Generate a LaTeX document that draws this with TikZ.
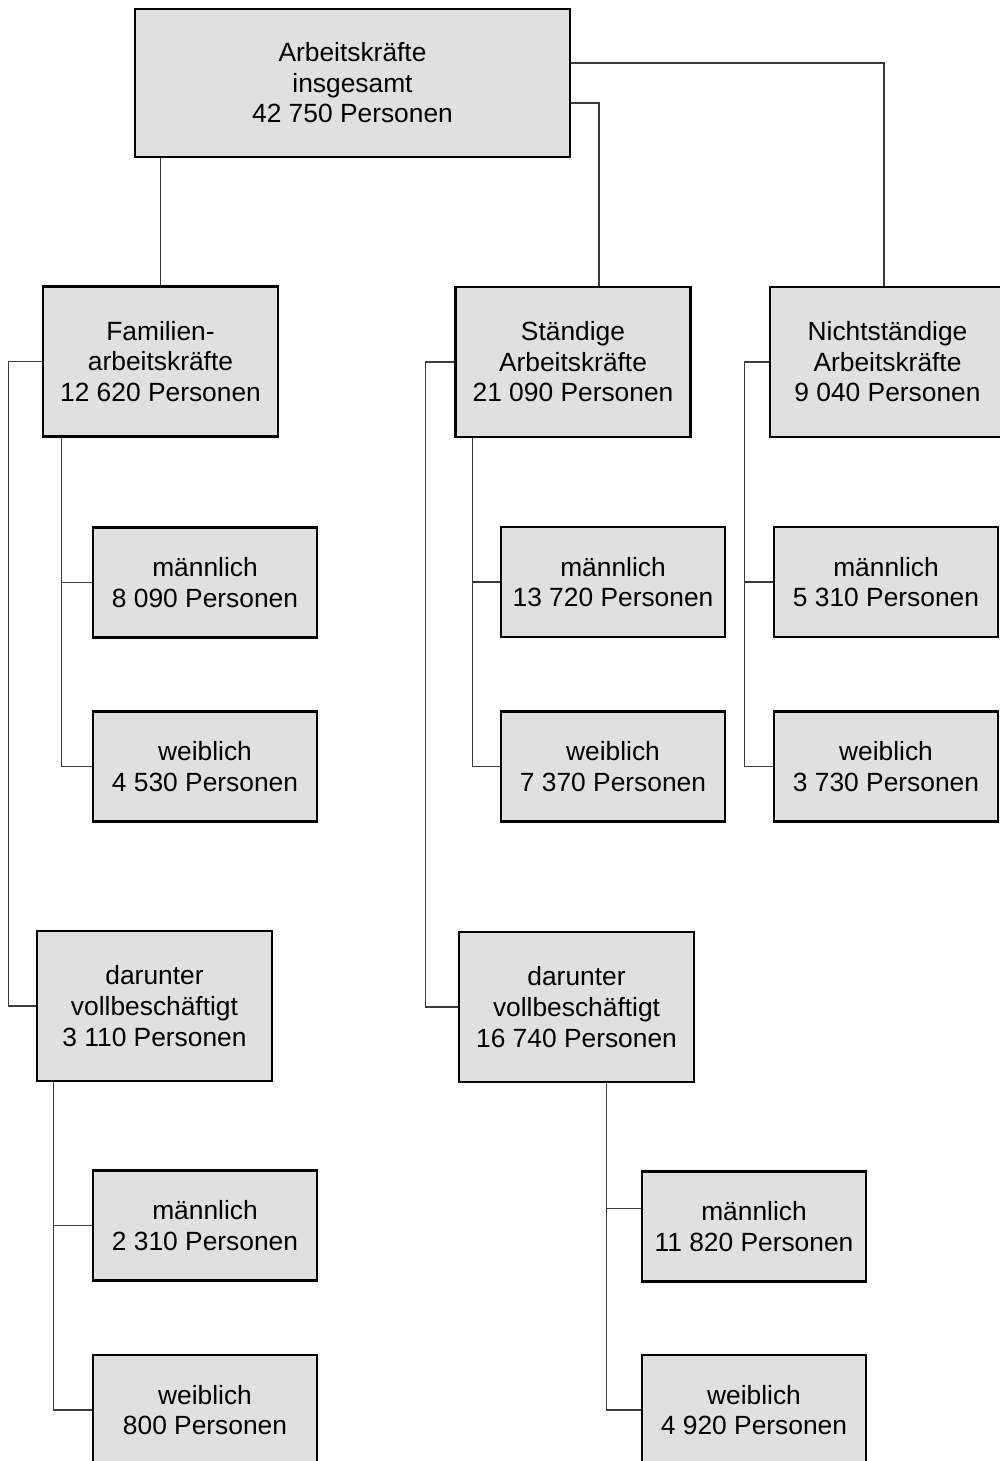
\documentclass[tikz,border=0pt]{standalone}
\usepackage{fontspec}
\setmainfont{Liberation Sans}
\usetikzlibrary{calc}
\definecolor{boxgray}{HTML}{E0E0E0}
\definecolor{linegray}{HTML}{3C3C3C}

\begin{document}
\begin{tikzpicture}[x=0.02cm,y=-0.02cm,
        box/.style={draw=black,line width=1.4pt,fill=boxgray,align=center,inner sep=0pt,
          font=\fontsize{15pt}{17.4pt}\selectfont},
        big/.style={box,minimum width=4.7cm,minimum height=3cm},
        small/.style={box,minimum width=4.48cm,minimum height=2.2cm},
        conn/.style={draw=linegray,line width=0.6pt}]
        \useasboundingbox (0,0) rectangle (1000,1461);
        % top and first level
        \node[box,minimum width=8.7cm,minimum height=2.96cm] (top) at (352.5,83) {Arbeitskräfte\\insgesamt\\42 750 Personen};
        \node[big] (fam) at (160.5,361.5) {Familien-\\arbeitskräfte\\12 620 Personen};
        \node[big] (std) at (573,362) {Ständige\\Arbeitskräfte\\21 090 Personen};
        \node[big] (nst) at (887.5,362) {Nichtständige\\Arbeitskräfte\\9 040 Personen};
        % by sex
        \node[small] (famm) at (205,582.5) {männlich\\8 090 Personen};
        \node[small] (famw) at (205,766.5) {weiblich\\4 530 Personen};
        \node[small] (stdm) at (613,582) {männlich\\13 720 Personen};
        \node[small] (stdw) at (613,766.5) {weiblich\\7 370 Personen};
        \node[small] (nstm) at (886,582) {männlich\\5 310 Personen};
        \node[small] (nstw) at (886,766.5) {weiblich\\3 730 Personen};
        % full-time
        \node[big] (famvb) at (154.5,1006) {darunter\\vollbeschäftigt\\3 110 Personen};
        \node[big] (stdvb) at (576.5,1007) {darunter\\vollbeschäftigt\\16 740 Personen};
        \node[small] (famvbm) at (205,1225.5) {männlich\\2 310 Personen};
        \node[small] (famvbw) at (205,1410) {weiblich\\800 Personen};
        \node[small] (stdvbm) at (754,1226.5) {männlich\\11 820 Personen};
        \node[small] (stdvbw) at (754,1410) {weiblich\\4 920 Personen};
        % connectors
        \draw[conn] (top.south -| fam.north) -- (fam.north);
        \draw[conn] ($(top.east)+(0,20)$) -| ($(std.north)+(26,0)$);
        \draw[conn] ($(top.east)+(0,-20)$) -| ($(nst.north)+(-3.5,0)$);
        \draw[conn] (fam.west) -- ++(-33,0) |- (famvb.west);
        \coordinate (famx) at ($(fam.south west)+(20,0)$);
        \draw[conn] (famx) |- (famw.west);
        \draw[conn] (famm.west) -- (famm.west -| famx);
        \draw[conn] (std.west) -- ++(-29,0) |- (stdvb.west);
        \coordinate (stdx) at ($(std.south west)+(18,0)$);
        \draw[conn] (stdx) |- (stdw.west);
        \draw[conn] (stdm.west) -- (stdm.west -| stdx);
        \draw[conn] (nst.west) -- ++(-24,0) |- (nstw.west);
        \draw[conn] (nstm.west) -- ++(-28,0);
        \coordinate (famvbx) at ($(famvb.south west)+(18,0)$);
        \draw[conn] (famvbx) |- (famvbw.west);
        \draw[conn] (famvbm.west) -- (famvbm.west -| famvbx);
        \coordinate (stdvbx) at ($(stdvb.south)+(30,0)$);
        \draw[conn] (stdvbx) |- (stdvbw.west);
        \draw[conn] ($(stdvbm.west)+(0,-18)$) -- ++(-35,0);
\end{tikzpicture}
\end{document}
